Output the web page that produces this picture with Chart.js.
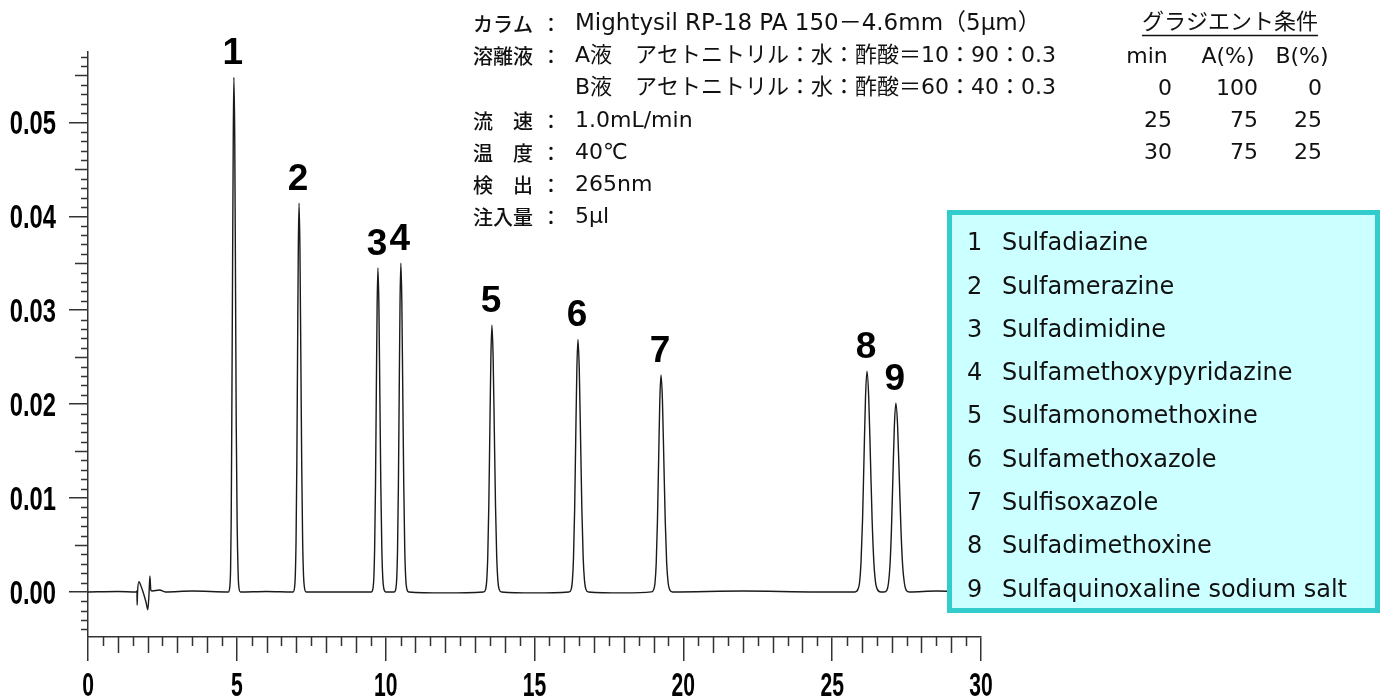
<!DOCTYPE html>
<html>
<head>
<meta charset="utf-8">
<script src="https://cdn.jsdelivr.net/npm/chart.js@4/dist/chart.umd.min.js"></script>
<style>
  body { margin: 0; background: #fff; }
</style>
</head>
<body>
<canvas id="chromChart" width="1385" height="697"></canvas>
<script>
// Axis ticks
const ticksX = [0, 5, 10, 15, 20, 25, 30];
const ticksY = [0, 0.01, 0.02, 0.03, 0.04, 0.05];

// Peak numbers, retention times (min) and heights (AU)
const peakNumbers = ['1', '2', '3', '4', '5', '6', '7', '8', '9'];
const peakTimes = [4.90, 7.09, 9.74, 10.51, 13.57, 16.46, 19.25, 26.17, 27.14];
const peakHeights = [0.0548, 0.0414, 0.0345, 0.0350, 0.0284, 0.0269, 0.0231, 0.0235, 0.0201];

// Compound names for the box
const compoundNames = [
  'Sulfadiazine', 'Sulfamerazine', 'Sulfadimidine', 'Sulfamethoxypyridazine',
  'Sulfamonomethoxine', 'Sulfamethoxazole', 'Sulfisoxazole', 'Sulfadimethoxine',
  'Sulfaquinoxaline sodium salt'
];

// Chromatogram trace: time (min)
const traceTime = [
  0, 1.0, 1.62, 1.645, 1.65, 1.665, 1.71, 1.76, 1.85, 1.95, 2.01, 2.05, 2.08, 2.11, 2.16, 2.4, 2.6, 3.5,
  4.72, 4.765, 4.79, 4.81, 4.83, 4.855, 4.88, 4.90, 4.93, 4.955, 4.98, 5.01, 5.04, 5.065, 5.12,
  6.0,
  6.89, 6.94, 6.965, 6.99, 7.015, 7.04, 7.065, 7.09, 7.12, 7.15, 7.18, 7.21, 7.24, 7.27, 7.33,
  8.5,
  9.52, 9.575, 9.603, 9.63, 9.658, 9.685, 9.713, 9.74, 9.773, 9.805, 9.838, 9.87, 9.903, 9.935, 10.0,
  10.29, 10.345, 10.373, 10.40, 10.428, 10.455, 10.483, 10.51, 10.543, 10.575, 10.608, 10.64, 10.673, 10.705, 10.77,
  12.0,
  13.29, 13.36, 13.395, 13.43, 13.465, 13.50, 13.535, 13.57, 13.61, 13.65, 13.69, 13.73, 13.77, 13.81, 13.89,
  15.0,
  16.16, 16.235, 16.273, 16.31, 16.348, 16.385, 16.423, 16.46, 16.504, 16.548, 16.592, 16.636, 16.68, 16.724, 16.81,
  18.0,
  18.93, 19.01, 19.05, 19.09, 19.13, 19.17, 19.21, 19.25, 19.298, 19.345, 19.393, 19.44, 19.488, 19.535, 19.63,
  22.0, 24.5,
  25.77, 25.87, 25.92, 25.97, 26.02, 26.07, 26.12, 26.17, 26.228, 26.285, 26.343, 26.40, 26.458, 26.515, 26.63,
  26.74, 26.84, 26.89, 26.94, 26.99, 27.04, 27.09, 27.14, 27.198, 27.255, 27.313, 27.37, 27.428, 27.485, 27.60,
  28.5, 30
];
// Chromatogram trace: absorbance (AU)
const traceAbs = [
  0, 0.00005, 0, 0.0001, -0.0014, 0.0, 0.0011, 0.0008, 0.0, -0.0011, -0.0019, -0.0002, 0.0017, 0.0002, 0.0001, 0.0002, 0.0, 0.0001,
  0, 0.0006, 0.0024, 0.0074, 0.0178, 0.0333, 0.0483, 0.0548, 0.0483, 0.0333, 0.0178, 0.0074, 0.0024, 0.0006, 0,
  0.00005,
  0, 0.0005, 0.0018, 0.0056, 0.0135, 0.0251, 0.0365, 0.0414, 0.0365, 0.0251, 0.0135, 0.0056, 0.0018, 0.0005, 0,
  0,
  0, 0.0004, 0.0015, 0.0047, 0.0112, 0.0209, 0.0304, 0.0345, 0.0304, 0.0209, 0.0112, 0.0047, 0.0015, 0.0004, 0,
  0, 0.0004, 0.0015, 0.0047, 0.0114, 0.0212, 0.0309, 0.0350, 0.0309, 0.0212, 0.0114, 0.0047, 0.0015, 0.0004, 0,
  -0.0001,
  0, 0.0003, 0.0012, 0.0038, 0.0092, 0.0172, 0.0250, 0.0284, 0.0250, 0.0172, 0.0092, 0.0038, 0.0012, 0.0003, 0,
  -0.0001,
  0, 0.0003, 0.0012, 0.0036, 0.0087, 0.0163, 0.0237, 0.0269, 0.0237, 0.0163, 0.0087, 0.0036, 0.0012, 0.0003, 0,
  -0.0001,
  0, 0.0003, 0.0010, 0.0031, 0.0075, 0.0140, 0.0204, 0.0231, 0.0204, 0.0140, 0.0075, 0.0031, 0.0010, 0.0003, 0,
  0.0001, 0,
  0, 0.0003, 0.0010, 0.0032, 0.0076, 0.0143, 0.0207, 0.0235, 0.0207, 0.0143, 0.0076, 0.0032, 0.0010, 0.0003, 0,
  0, 0.0002, 0.0009, 0.0027, 0.0065, 0.0122, 0.0177, 0.0201, 0.0177, 0.0122, 0.0065, 0.0027, 0.0009, 0.0002, 0,
  0.0001, 0
];

// Conditions text
const condLabels = ['カラム', '溶離液', '', '流　速', '温　度', '検　出', '注入量'];
const condColons = ['：', '：', '', '：', '：', '：', '：'];
const condValues = [
  'Mightysil RP-18 PA 150－4.6mm（5μm）',
  'A液',
  'B液',
  '1.0mL/min',
  '40℃',
  '265nm',
  '5μl'
];
const eluentText = ['', 'アセトニトリル：水：酢酸＝10：90：0.3', 'アセトニトリル：水：酢酸＝60：40：0.3', '', '', '', ''];

// Gradient table
const gradTitle = 'グラジエント条件';
const gradHeader = ['min', 'A(%)', 'B(%)'];
const gradMin = ['0', '25', '30'];
const gradA = ['100', '75', '75'];
const gradB = ['0', '25', '25'];

const tickFont = "bold 33px 'Liberation Sans', Arial, sans-serif";
const textFont = "'DejaVu Sans', 'Noto Sans CJK JP', sans-serif";

// text squeezed horizontally, for the narrow axis numbers
function drawNarrow(ctx, text, x, y, align, sx) {
  ctx.save();
  ctx.translate(x, y);
  ctx.scale(sx, 1);
  ctx.textAlign = align;
  ctx.fillText(text, 0, 0);
  ctx.restore();
}

// Minor ticks, axis numbers, peak labels, text and the compound box
const overlayPlugin = {
  id: 'overlay',
  afterDraw(chart) {
    const ctx = chart.ctx;
    const xs = chart.scales.x, ys = chart.scales.y;
    const area = chart.chartArea;
    ctx.save();

    // minor ticks on x
    ctx.strokeStyle = '#333';
    ctx.lineWidth = 1.5;
    ctx.beginPath();
    for (let i = 0; i <= 60; i++) {
      if (i % 10 === 0) continue;
      const px = Math.round(xs.getPixelForValue(i / 2)) + 0.5;
      const len = i % 2 === 0 ? 16 : 9;
      ctx.moveTo(px, area.bottom);
      ctx.lineTo(px, area.bottom + len);
    }
    // minor ticks on y
    for (let i = -4; i <= 57; i++) {
      if (i % 10 === 0) continue;
      const py = Math.round(ys.getPixelForValue(i / 1000)) + 0.5;
      const len = i % 5 === 0 ? 13 : 7;
      ctx.moveTo(area.left, py);
      ctx.lineTo(area.left - len, py);
    }
    ctx.stroke();

    // axis numbers
    ctx.fillStyle = '#000';
    ctx.font = tickFont;
    ctx.textBaseline = 'alphabetic';
    ticksX.forEach(v => drawNarrow(ctx, String(v), xs.getPixelForValue(v), 696, 'center', 0.64));
    ticksY.forEach(v => drawNarrow(ctx, v.toFixed(2), 56, ys.getPixelForValue(v) + 12, 'right', 0.72));

    // peak numbers
    ctx.font = "bold 37px 'Liberation Sans', Arial, sans-serif";
    ctx.textAlign = 'center';
    peakNumbers.forEach((n, i) => {
      const px = xs.getPixelForValue(peakTimes[i]);
      const py = ys.getPixelForValue(peakHeights[i]);
      ctx.fillText(n, px - 1, py - 13);
    });

    // conditions block
    ctx.fillStyle = '#111';
    ctx.textBaseline = 'middle';
    const rowY = [24, 56, 88, 121, 153, 185, 217];
    condLabels.forEach((lab, i) => {
      ctx.font = "500 20px 'Noto Sans CJK JP', sans-serif";
      ctx.textAlign = 'left';
      if (lab) ctx.fillText(lab, 473, rowY[i]);
      ctx.textAlign = 'center';
      if (condColons[i]) ctx.fillText(condColons[i], 551, rowY[i]);
      ctx.font = (i === 0 ? '23px ' : '22px ') + textFont;
      ctx.textAlign = 'left';
      ctx.fillText(condValues[i], 575, rowY[i]);
      if (eluentText[i]) ctx.fillText(eluentText[i], 635, rowY[i]);
    });

    // gradient table
    ctx.font = '22px ' + textFont;
    ctx.textAlign = 'center';
    ctx.fillText(gradTitle, 1230, 23);
    const tw = ctx.measureText(gradTitle).width;
    ctx.strokeStyle = '#111';
    ctx.lineWidth = 1.5;
    ctx.beginPath();
    ctx.moveTo(1230 - tw / 2, 35.5);
    ctx.lineTo(1230 + tw / 2, 35.5);
    ctx.stroke();
    const headX = [1147, 1228, 1302];
    gradHeader.forEach((h, i) => ctx.fillText(h, headX[i], 57));
    ctx.textAlign = 'right';
    const gradRows = [89, 121, 153];
    gradMin.forEach((v, i) => {
      ctx.fillText(v, 1172, gradRows[i]);
      ctx.fillText(gradA[i], 1258, gradRows[i]);
      ctx.fillText(gradB[i], 1322, gradRows[i]);
    });

    // compound box
    ctx.fillStyle = '#ccffff';
    ctx.fillRect(949.5, 212.5, 428, 398);
    ctx.strokeStyle = '#33cccc';
    ctx.lineWidth = 5;
    ctx.strokeRect(949.5, 212.5, 428, 398);
    ctx.fillStyle = '#111';
    ctx.font = '24px ' + textFont;
    ctx.textAlign = 'left';
    compoundNames.forEach((name, i) => {
      const yy = 244 + i * 43.3;
      ctx.fillText(String(i + 1), 967, yy);
      ctx.fillText(name, 1002, yy);
    });

    ctx.restore();
  }
};

const ctx = document.getElementById('chromChart').getContext('2d');
new Chart(ctx, {
  type: 'line',
  data: {
    datasets: [{
      data: traceTime.map((t, i) => ({ x: t, y: traceAbs[i] })),
      borderColor: '#1a1a1a',
      borderWidth: 1.4,
      pointRadius: 0,
      fill: false,
      cubicInterpolationMode: 'monotone'
    }]
  },
  options: {
    responsive: false,
    devicePixelRatio: 1,
    animation: false,
    layout: { padding: { left: 0, right: 404, top: 52, bottom: 0 } },
    plugins: { legend: { display: false }, tooltip: { enabled: false } },
    scales: {
      x: {
        type: 'linear',
        min: 0,
        max: 30,
        afterBuildTicks: (axis) => { axis.ticks = ticksX.map(v => ({ value: v })); },
        afterFit: (axis) => { axis.height = 60; },
        ticks: { display: false },
        grid: { drawOnChartArea: false, tickLength: 24, color: '#333', lineWidth: 1.5 },
        border: { color: '#333', width: 1.5 }
      },
      y: {
        type: 'linear',
        min: -0.0048,
        max: 0.0575,
        afterBuildTicks: (axis) => { axis.ticks = ticksY.map(v => ({ value: v })); },
        afterFit: (axis) => { axis.width = 88; },
        ticks: { display: false },
        grid: { drawOnChartArea: false, tickLength: 19, color: '#333', lineWidth: 1.5 },
        border: { color: '#333', width: 1.5 }
      }
    }
  },
  plugins: [overlayPlugin]
});
</script>
</body>
</html>
